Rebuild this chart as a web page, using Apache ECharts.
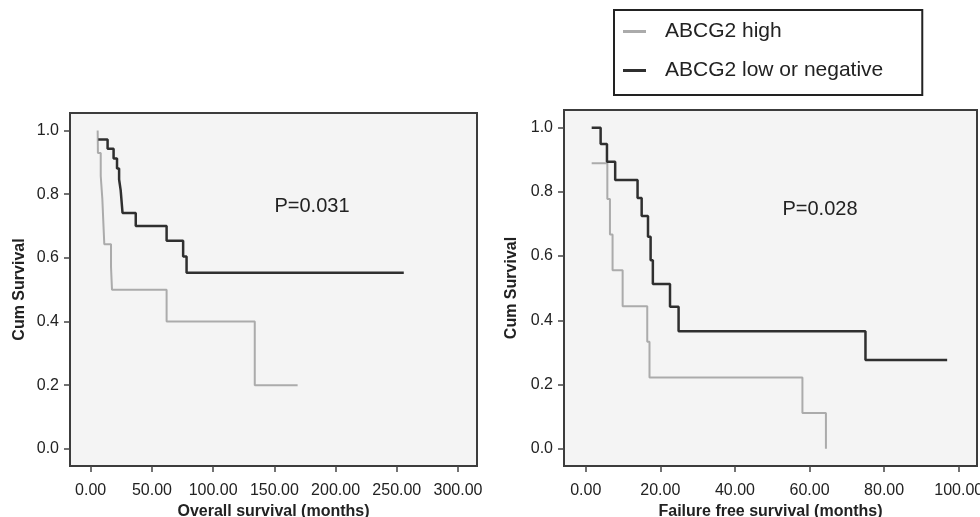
<!DOCTYPE html>
<html>
<head>
<meta charset="utf-8">
<script src="https://cdn.jsdelivr.net/npm/echarts@6/dist/echarts.min.js"></script>
<style>
  html, body { margin: 0; padding: 0; background: #fff; }
  #chart { width: 980px; height: 517px; }
</style>
</head>
<body>
<div id="chart"></div>
<script>
// Kaplan-Meier steps (time in months, cumulative survival)
const osHighTime = [5.7, 5.9, 8.2, 9.5, 11.1, 16.6, 17.4, 62, 134, 169]
const osHighSurv = [1.0, 0.929, 0.857, 0.786, 0.643, 0.571, 0.5, 0.4, 0.2, 0.2]
const osLowTime = [6.2, 13.8, 18.7, 21.5, 23.2, 24.5, 26, 36.8, 62, 75.5, 78.3, 255.7]
const osLowSurv = [0.972, 0.943, 0.912, 0.881, 0.846, 0.812, 0.741, 0.7, 0.654, 0.604, 0.553, 0.553]

const ffsHighTime = [1.6, 5.8, 6.5, 7.2, 9.9, 16.5, 17.1, 58.1, 64.4]
const ffsHighSurv = [0.889, 0.778, 0.667, 0.556, 0.444, 0.333, 0.222, 0.111, 0]
const ffsLowTime = [1.6, 4.0, 5.7, 7.9, 13.9, 15.0, 16.7, 17.4, 18.0, 22.6, 24.9, 75.0, 96.9]
const ffsLowSurv = [1.0, 0.949, 0.894, 0.837, 0.781, 0.725, 0.66, 0.587, 0.513, 0.442, 0.366, 0.276, 0.276]

const osTicks = [0, 50, 100, 150, 200, 250, 300]
const ffsTicks = [0, 20, 40, 60, 80, 100]
const survTicks = [0, 0.2, 0.4, 0.6, 0.8, 1.0]

const groupNames = ['ABCG2 high', 'ABCG2 low or negative']
const pValues = ['P=0.031', 'P=0.028']

const zip = (xs, ys) => xs.map((x, i) => [x, ys[i]])

const FONT = '"Liberation Sans", Arial, sans-serif'
const LIGHT = '#ababab'
const DARK = '#2f2f2f'

function xAxisFor(idx, min, max, ticks, name) {
  return {
    type: 'value', gridIndex: idx, min: min, max: max, position: 'bottom',
    name: name, nameLocation: 'middle', nameGap: 37,
    nameTextStyle: { fontFamily: FONT, fontSize: 16, fontWeight: 'bold', color: '#222' },
    axisLine: { show: false, onZero: false },
    splitLine: { show: false },
    axisTick: { show: true, inside: false, length: 6, customValues: ticks, lineStyle: { color: '#444', width: 1.5 } },
    axisLabel: {
      customValues: ticks, margin: 17,
      fontFamily: FONT, fontSize: 16, color: '#222',
      formatter: v => v.toFixed(2)
    }
  }
}

function yAxisFor(idx, gap) {
  return {
    type: 'value', gridIndex: idx, min: -0.054, max: 1.055, position: 'left',
    name: 'Cum Survival', nameLocation: 'middle', nameGap: gap,
    nameTextStyle: { fontFamily: FONT, fontSize: 16, fontWeight: 'bold', color: '#222' },
    axisLine: { show: false, onZero: false },
    splitLine: { show: false },
    axisTick: { show: true, inside: false, length: 6, customValues: survTicks, lineStyle: { color: '#444', width: 1.5 } },
    axisLabel: {
      customValues: survTicks, margin: 11,
      fontFamily: FONT, fontSize: 16, color: '#222',
      formatter: v => v.toFixed(1)
    }
  }
}

function kmSeries(name, idx, data, color, width) {
  return {
    name: name, type: 'line', step: 'end',
    xAxisIndex: idx, yAxisIndex: idx,
    showSymbol: false, symbol: 'none',
    itemStyle: { color: color },
    lineStyle: { color: color, width: width },
    data: data
  }
}

const chart = echarts.init(document.getElementById('chart'))
chart.setOption({
  backgroundColor: '#fff',
  animation: false,
  grid: [
    { left: 70, top: 113, width: 407, height: 353, outerBoundsMode: 'none', containLabel: false, show: true, backgroundColor: '#f4f4f4', borderColor: '#3c3c3c', borderWidth: 2 },
    { left: 564, top: 110, width: 413, height: 356, outerBoundsMode: 'none', containLabel: false, show: true, backgroundColor: '#f4f4f4', borderColor: '#3c3c3c', borderWidth: 2 }
  ],
  legend: {
    data: groupNames,
    orient: 'vertical',
    left: 614, top: 10,
    padding: [11, 39, 14, 9],
    itemGap: 18,
    itemWidth: 23, itemHeight: 3,
    icon: 'rect',
    borderColor: '#222', borderWidth: 2,
    textStyle: { fontFamily: FONT, fontSize: 21, color: '#222', padding: [0, 0, 0, 14] }
  },
  xAxis: [
    xAxisFor(0, -16.9, 315.5, osTicks, 'Overall survival (months)'),
    xAxisFor(1, -5.82, 104.9, ffsTicks, 'Failure free survival (months)')
  ],
  yAxis: [yAxisFor(0, 42), yAxisFor(1, 44)],
  graphic: [
    { type: 'text', x: 312, y: 206, style: { text: pValues[0], fontFamily: FONT, fontSize: 20, fill: '#222', align: 'center', verticalAlign: 'middle' } },
    { type: 'text', x: 820, y: 209, style: { text: pValues[1], fontFamily: FONT, fontSize: 20, fill: '#222', align: 'center', verticalAlign: 'middle' } }
  ],
  series: [
    kmSeries(groupNames[0], 0, zip(osHighTime, osHighSurv), LIGHT, 2),
    kmSeries(groupNames[1], 0, zip(osLowTime, osLowSurv), DARK, 2.5),
    kmSeries(groupNames[0], 1, zip(ffsHighTime, ffsHighSurv), LIGHT, 2),
    kmSeries(groupNames[1], 1, zip(ffsLowTime, ffsLowSurv), DARK, 2.5)
  ]
})
</script>
</body>
</html>
